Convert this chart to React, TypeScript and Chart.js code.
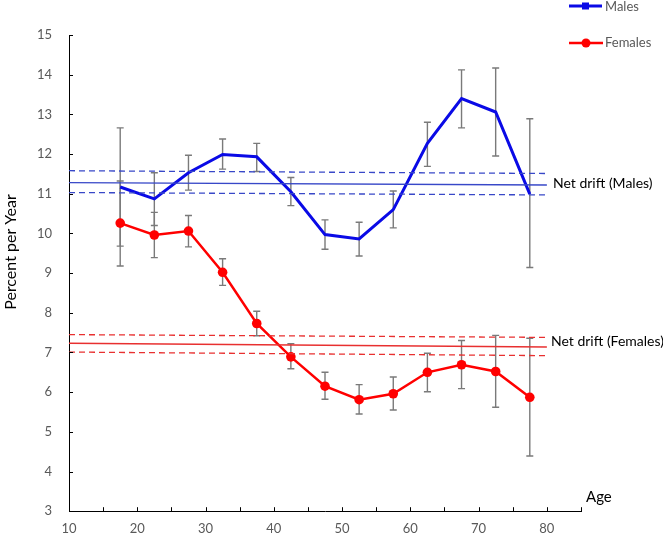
import React, { useEffect, useRef } from "react";
import { Chart, registerables } from "chart.js";

Chart.register(...registerables);

const ages = [17.5, 22.5, 27.5, 32.5, 37.5, 42.5, 47.5, 52.5, 57.5, 62.5, 67.5, 72.5, 77.5];
const males = [11.17, 10.87, 11.53, 11.99, 11.93, 11.05, 9.97, 9.86, 10.6, 12.27, 13.4, 13.06, 10.99];
const malesUpper = [12.66, 11.53, 11.97, 12.38, 12.27, 11.41, 10.34, 10.28, 11.07, 12.8, 14.12, 14.17, 12.89];
const malesLower = [9.68, 10.2, 11.09, 11.62, 11.56, 10.7, 9.6, 9.43, 10.14, 11.69, 12.66, 11.95, 9.14];
const females = [10.26, 9.96, 10.06, 9.02, 7.73, 6.89, 6.15, 5.81, 5.96, 6.5, 6.69, 6.52, 5.87];
const femalesUpper = [11.32, 10.53, 10.45, 9.36, 8.04, 7.22, 6.5, 6.19, 6.38, 6.98, 7.3, 7.43, 7.36];
const femalesLower = [9.18, 9.39, 9.66, 8.69, 7.42, 6.59, 5.82, 5.45, 5.55, 6.01, 6.09, 5.62, 4.39];

const driftAges = [10, 80];
const driftMales = [11.28, 11.22];
const driftMalesUpper = [11.58, 11.51];
const driftMalesLower = [11.03, 10.97];
const driftFemales = [7.23, 7.14];
const driftFemalesUpper = [7.45, 7.38];
const driftFemalesLower = [7.01, 6.92];

const BLUE = "#0a0ae6";
const RED = "#ff0000";
const DRIFT_BLUE = "#3848c8";
const DRIFT_RED = "#e83030";
const FONT = "Lato, 'Open Sans', sans-serif";

const pts = (xs: number[], ys: number[]) => xs.map((x, i) => ({ x, y: ys[i] }));

const errorBarPlugin = {
  id: "errorBars",
  beforeDatasetsDraw(chart: any) {
    const { ctx, scales } = chart;
    const xs = scales.x;
    const ys = scales.y;
    ctx.save();
    ctx.strokeStyle = "#7a7a7a";
    ctx.lineWidth = 1.4;
    const draw = (up: number[], lo: number[]) => {
      ages.forEach((a, i) => {
        const px = xs.getPixelForValue(a);
        const t = ys.getPixelForValue(up[i]);
        const b = ys.getPixelForValue(lo[i]);
        ctx.beginPath();
        ctx.moveTo(px, t);
        ctx.lineTo(px, b);
        ctx.moveTo(px - 3.5, t);
        ctx.lineTo(px + 3.5, t);
        ctx.moveTo(px - 3.5, b);
        ctx.lineTo(px + 3.5, b);
        ctx.stroke();
      });
    };
    draw(malesUpper, malesLower);
    draw(femalesUpper, femalesLower);
    ctx.restore();
  },
};

const decorPlugin = {
  id: "decor",
  afterDraw(chart: any) {
    const { ctx, scales, chartArea } = chart;
    const xs = scales.x;
    const ys = scales.y;
    ctx.save();
    ctx.strokeStyle = "#000";
    ctx.lineWidth = 1;
    for (let v = 4; v <= 15; v++) {
      const py = Math.round(ys.getPixelForValue(v)) + 0.5;
      ctx.beginPath();
      ctx.moveTo(chartArea.left, py);
      ctx.lineTo(chartArea.left + 4, py);
      ctx.stroke();
    }
    for (let v = 15; v <= 85; v += 5) {
      const px = Math.round(xs.getPixelForValue(v)) + 0.5;
      ctx.beginPath();
      ctx.moveTo(px, chartArea.bottom);
      ctx.lineTo(px, chartArea.bottom - 4);
      ctx.stroke();
    }
    ctx.save();
    ctx.translate(11, 252);
    ctx.rotate(-Math.PI / 2);
    ctx.fillStyle = "#000";
    ctx.font = `16px ${FONT}`;
    ctx.textAlign = "center";
    ctx.textBaseline = "middle";
    ctx.fillText("Percent per Year", 0, 0);
    ctx.restore();

    ctx.textBaseline = "middle";
    ctx.textAlign = "left";
    ctx.fillStyle = "#000";
    ctx.font = `14px ${FONT}`;
    ctx.fillText("Net drift (Males)", 553, 183);
    ctx.fillText("Net drift (Females)", 551, 341.5);
    ctx.font = `15px ${FONT}`;
    ctx.fillText("Age", 586, 497);

    ctx.lineWidth = 3;
    ctx.strokeStyle = BLUE;
    ctx.beginPath();
    ctx.moveTo(569, 6);
    ctx.lineTo(602, 6);
    ctx.stroke();
    ctx.fillStyle = BLUE;
    ctx.fillRect(582, 2.5, 7, 7);
    ctx.lineWidth = 2.5;
    ctx.strokeStyle = RED;
    ctx.beginPath();
    ctx.moveTo(569, 43);
    ctx.lineTo(603, 43);
    ctx.stroke();
    ctx.fillStyle = RED;
    ctx.beginPath();
    ctx.arc(586, 43, 4.5, 0, Math.PI * 2);
    ctx.fill();
    ctx.fillStyle = "#595959";
    ctx.font = `13px ${FONT}`;
    ctx.fillText("Males", 605, 7);
    ctx.fillText("Females", 605, 43);
    ctx.restore();
  },
};

export default function App() {
  const ref = useRef<HTMLCanvasElement | null>(null);
  useEffect(() => {
    if (!ref.current) return;
    const driftLine = (data: number[], color: string, dashed: boolean, w: number) => ({
      data: pts(driftAges, data),
      borderColor: color,
      borderWidth: w,
      borderDash: dashed ? [6, 4] : [],
      pointRadius: 0,
      fill: false,
    });
    const chart = new Chart(ref.current, {
      type: "line",
      data: {
        datasets: [
          driftLine(driftMales, DRIFT_BLUE, false, 1.3),
          driftLine(driftMalesUpper, DRIFT_BLUE, true, 1.3),
          driftLine(driftMalesLower, DRIFT_BLUE, true, 1.3),
          driftLine(driftFemales, DRIFT_RED, false, 1.5),
          driftLine(driftFemalesUpper, DRIFT_RED, true, 1.3),
          driftLine(driftFemalesLower, DRIFT_RED, true, 1.3),
          {
            label: "Males",
            data: pts(ages, males),
            borderColor: BLUE,
            borderWidth: 3,
            pointRadius: 0,
            tension: 0,
            fill: false,
          },
          {
            label: "Females",
            data: pts(ages, females),
            borderColor: RED,
            backgroundColor: RED,
            borderWidth: 2.5,
            pointRadius: 4.8,
            pointBorderWidth: 0,
            pointBackgroundColor: RED,
            tension: 0,
            fill: false,
          },
        ] as any,
      },
      options: {
        animation: false,
        responsive: false,
        maintainAspectRatio: false,
        layout: { padding: { left: 0, top: 35, right: 82, bottom: 0 } },
        plugins: { legend: { display: false }, tooltip: { enabled: false }, title: { display: false } },
        scales: {
          x: {
            type: "linear",
            min: 10,
            max: 85,
            grid: { display: true, drawOnChartArea: false, drawTicks: false },
            border: { display: true, color: "#000", width: 1 },
            ticks: {
              stepSize: 5,
              autoSkip: false,
              maxRotation: 0,
              padding: 10,
              color: "#595959",
              font: { family: FONT, size: 13 },
              callback: (v: any) => (v % 10 === 0 && v <= 80 ? String(v) : ""),
            },
            afterFit: (s: any) => {
              s.height = 22;
            },
          },
          y: {
            type: "linear",
            min: 3,
            max: 15,
            grid: { display: true, drawOnChartArea: false, drawTicks: false },
            border: { display: true, color: "#000", width: 1 },
            ticks: {
              stepSize: 1,
              padding: 17,
              color: "#595959",
              font: { family: FONT, size: 13 },
            },
            afterFit: (s: any) => {
              s.width = 69;
            },
          },
        },
      } as any,
      plugins: [errorBarPlugin, decorPlugin],
    });
    return () => chart.destroy();
  }, []);
  return (
    <div style={{ position: "absolute", left: 0, top: 0, width: 663, height: 536, background: "#fff" }}>
      <canvas ref={ref} width={663} height={536} style={{ width: 663, height: 536, display: "block" }} />
    </div>
  );
}
